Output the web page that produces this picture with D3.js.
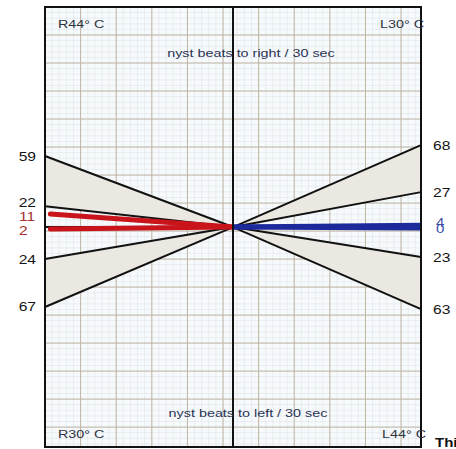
<!DOCTYPE html>
<html lang="en">
  <head>
    <meta charset="utf-8">
    <title>Caloric fan chart</title>
    <script type="text/javascript" src="https://cdn.jsdelivr.net/npm/d3@7"></script>
    <style>
      body { margin: 0; background: #fff; }
      text { font-family: "Liberation Sans", Arial, sans-serif; }
    </style>
  </head>
  <body>
    <script type="text/javascript">
      var width = 456;
      var height = 449;

      // graph paper, in grid cells (columns / rows from top-left of frame)
      var gridCols = 10.56;
      var gridRows = 15.71;
      var centerCol = 5.28;
      var centerRow = 7.857;

      // fan boundaries: row where each line meets the left / right frame
      var leftLabels = ["59", "22", "24", "67"];
      var leftEnds = [5.32, 7.11, 9.0, 10.71];
      var rightLabels = ["68", "27", "23", "63"];
      var rightEnds = [4.93, 6.61, 8.93, 10.79];

      // patient responses
      var redLabels = ["11", "2"];
      var redEnds = [7.39, 7.93];
      var blueLabels = ["4", "0"];
      var blueEnds = [7.79, 7.89];

      var cornerLabels = ["R44° C", "L30° C", "R30° C", "L44° C"];
      var titleTop = "nyst beats to right / 30 sec";
      var titleBottom = "nyst beats to left / 30 sec";

      var xScale = d3.scaleLinear().domain([0, gridCols]).range([45, 421]);
      var yScale = d3.scaleLinear().domain([0, gridRows]).range([7, 447]);

      var svg = d3.select("body")
            .append("svg")
            .attr("width", width)
            .attr("height", height);

      // paper
      svg.append("rect")
         .attr("x", xScale(0)).attr("y", yScale(0))
         .attr("width", xScale(gridCols) - xScale(0))
         .attr("height", yScale(gridRows) - yScale(0))
         .attr("fill", "#f7fafc");

      var minorX = d3.range(0, gridCols, 0.2);
      var minorY = d3.range(0, gridRows, 0.2);
      svg.selectAll(".minx").data(minorX).enter().append("line")
         .attr("x1", d => xScale(d)).attr("x2", d => xScale(d))
         .attr("y1", yScale(0)).attr("y2", yScale(gridRows))
         .attr("stroke", "#dfe4ea").attr("stroke-width", 0.6);
      svg.selectAll(".miny").data(minorY).enter().append("line")
         .attr("y1", d => yScale(d)).attr("y2", d => yScale(d))
         .attr("x1", xScale(0)).attr("x2", xScale(gridCols))
         .attr("stroke", "#dfe4ea").attr("stroke-width", 0.6);

      svg.selectAll(".majx").data(d3.range(1, gridCols)).enter().append("line")
         .attr("x1", d => xScale(d)).attr("x2", d => xScale(d))
         .attr("y1", yScale(0)).attr("y2", yScale(gridRows))
         .attr("stroke", "#c0b5a4").attr("stroke-width", 1);
      svg.selectAll(".majy").data(d3.range(1, gridRows)).enter().append("line")
         .attr("y1", d => yScale(d)).attr("y2", d => yScale(d))
         .attr("x1", xScale(0)).attr("x2", xScale(gridCols))
         .attr("stroke", "#c0b5a4").attr("stroke-width", 1);

      var cx = xScale(centerCol), cy = yScale(centerRow);

      // shaded wedges
      function wedges(ends, col) {
        return [[ends[0], ends[1]], [ends[2], ends[3]]].map(function(p) {
          return [[xScale(col), yScale(p[0])], [xScale(col), yScale(p[1])], [cx, cy]];
        });
      }
      var allWedges = wedges(leftEnds, 0).concat(wedges(rightEnds, gridCols));
      svg.selectAll(".wedge").data(allWedges).enter().append("path")
         .attr("d", d => "M" + d.join("L") + "Z")
         .attr("fill", "#ebe8e2");

      // fan boundary lines
      var fanLines = leftEnds.map(r => [0, r])
            .concat(rightEnds.map(r => [gridCols, r]))
            .concat([[0, centerRow], [gridCols, centerRow]]);
      svg.selectAll(".fan").data(fanLines).enter().append("line")
         .attr("x1", d => xScale(d[0])).attr("y1", d => yScale(d[1]))
         .attr("x2", cx).attr("y2", cy)
         .attr("stroke", "#111").attr("stroke-width", 2);

      // responses
      svg.selectAll(".red").data(redEnds).enter().append("line")
         .attr("x1", xScale(0.15)).attr("y1", d => yScale(d))
         .attr("x2", cx).attr("y2", cy)
         .attr("stroke", "#c8141a").attr("stroke-width", 5)
         .attr("stroke-linecap", "round");
      svg.selectAll(".blue").data(blueEnds).enter().append("line")
         .attr("x1", cx).attr("y1", cy)
         .attr("x2", xScale(gridCols)).attr("y2", d => yScale(d))
         .attr("stroke", "#1c2a9c").attr("stroke-width", 5);

      // frame and centre line
      svg.append("rect")
         .attr("x", xScale(0)).attr("y", yScale(0))
         .attr("width", xScale(gridCols) - xScale(0))
         .attr("height", yScale(gridRows) - yScale(0))
         .attr("fill", "none").attr("stroke", "#111").attr("stroke-width", 2);
      svg.append("line")
         .attr("x1", cx).attr("x2", cx)
         .attr("y1", yScale(0)).attr("y2", yScale(gridRows))
         .attr("stroke", "#111").attr("stroke-width", 2);

      // stretched text, like the scanned sheet
      function label(str, x, y, size, color, anchor, weight) {
        svg.append("text")
           .attr("transform", "translate(" + x + "," + y + ") scale(1.25,1)")
           .attr("text-anchor", anchor || "start")
           .attr("font-size", size + "px")
           .attr("font-weight", weight || "normal")
           .attr("fill", color)
           .text(str);
      }

      // left side labels: push apart so black and red numbers don't collide
      var leftItems = leftLabels.map((t, i) => ({t: t, y: yScale(leftEnds[i]), red: false}))
            .concat(redLabels.map((t, i) => ({t: t, y: yScale(redEnds[i]), red: true})))
            .sort((a, b) => a.y - b.y);
      for (var k = 0; k < 20; k++) {
        for (var i = 1; i < leftItems.length; i++) {
          var gap = leftItems[i].y - leftItems[i - 1].y;
          if (gap < 14) {
            var push = (14 - gap) / 2;
            leftItems[i - 1].y -= push;
            leftItems[i].y += push;
          }
        }
      }
      leftItems.forEach(function(d) {
        if (d.red) label(d.t, 19, d.y + 4.5, 12.5, "#a8302c");
        else label(d.t, 36, d.y + 4.5, 12.5, "#151515", "end");
      });
      rightLabels.forEach(function(t, i) { label(t, 433, yScale(rightEnds[i]) + 4.5, 12.5, "#151515"); });
      blueLabels.forEach(function(t, i) { label(t, 436, yScale(blueEnds[i]) + 2 + i * 3, 12, "#3a4aa8"); });

      label(cornerLabels[0], 58, 28, 11.5, "#2e3440");
      label(cornerLabels[1], 380, 28, 11.5, "#2e3440");
      label(cornerLabels[2], 58, 438, 11.5, "#2e3440");
      label(cornerLabels[3], 382, 438, 11.5, "#2e3440");
      label(titleTop, cx + 18, 57, 11.5, "#2a3454", "middle");
      label(titleBottom, cx + 15, 417, 11.5, "#2a3454", "middle");
      label("Thi", 435, 447, 12, "#111", "start", "bold");
    </script>
  </body>
</html>
